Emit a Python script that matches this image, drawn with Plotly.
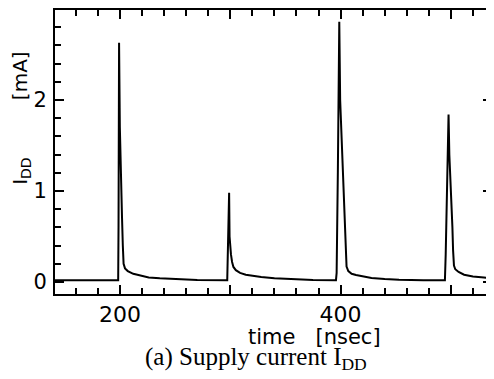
import plotly.graph_objects as go

# ---- data (time in nsec, supply current I_DD in mA) ----
time_ns = [
    141.0, 198.3, 198.6, 199.1, 199.8, 200.6, 201.4, 201.8, 202.5, 203.2, 204.5,
    207.0, 212.0, 218.0, 226.0, 236.0, 250.0, 270.0,
    297.2, 297.7, 298.9, 299.3, 299.8, 300.6, 301.6, 302.8, 305.0, 308.8, 314.0,
    320.0, 328.0, 340.0, 355.0, 375.0,
    395.8, 396.4, 397.5, 398.8, 399.6, 400.8, 401.5, 402.4, 403.3, 404.3, 405.4,
    407.0, 410.0, 414.0, 420.0, 428.0, 440.0, 453.0, 475.0,
    494.6, 495.3, 496.5, 497.9, 498.6, 499.6, 500.6, 501.4, 502.0, 502.8, 504.0,
    507.0, 512.0, 520.0, 530.0, 537.3,
]
current_mA = [
    0.02, 0.02, 0.60, 2.63, 1.70, 1.15, 0.95, 0.70, 0.40, 0.20, 0.15,
    0.12, 0.09, 0.07, 0.05, 0.04, 0.03, 0.022,
    0.02, 0.30, 0.98, 0.50, 0.37, 0.30, 0.22, 0.165, 0.13, 0.10, 0.08,
    0.066, 0.054, 0.04, 0.03, 0.022,
    0.02, 0.10, 1.20, 2.86, 2.00, 1.60, 1.30, 1.00, 0.70, 0.40, 0.17,
    0.12, 0.09, 0.077, 0.06, 0.044, 0.032, 0.024, 0.02,
    0.02, 0.30, 1.00, 1.84, 1.40, 1.15, 0.95, 0.60, 0.35, 0.18, 0.14,
    0.11, 0.08, 0.06, 0.048, 0.04,
]

x_label_vals = [200, 400]
x_label_text = ["200", "400"]
x_unlabelled_major = [300, 500]
y_tick_vals = [0, 1, 2]
y_tick_text = ["0", "1", "2"]

x_title = "time   [nsec]"
y_title = "I<sub>DD</sub>         [mA]"
caption = "(a) Supply current I<sub>DD</sub>"

fig = go.Figure()
fig.add_trace(go.Scatter(
    x=time_ns, y=current_mA, mode="lines",
    line=dict(color="black", width=2),
    showlegend=False, hoverinfo="skip",
))

axis_common = dict(
    showgrid=False, zeroline=False, showline=True, linecolor="black",
    linewidth=2, mirror="ticks", ticks="inside", tickcolor="black",
    tickwidth=1.5, automargin=False,
)
x_range = [141.0, 537.3]

fig.update_xaxes(
    range=x_range, tickvals=x_label_vals, ticktext=x_label_text,
    ticklen=9,
    minor=dict(dtick=20, tick0=0, ticks="inside", ticklen=6, tickcolor="black", tickwidth=1.5),
    tickfont=dict(family="DejaVu Sans", size=22, color="black"),
    ticklabelstandoff=0,
    **axis_common,
)
fig.update_yaxes(
    range=[-0.132, 2.989], tickvals=y_tick_vals, ticktext=y_tick_text,
    ticklen=9,
    minor=dict(dtick=0.2, tick0=0, ticks="inside", ticklen=6, tickcolor="black", tickwidth=1.5),
    tickfont=dict(family="DejaVu Sans", size=21, color="black"),
    ticklabelstandoff=2,
    **axis_common,
)
# longer unlabelled ticks at 300 and 500
fig.update_layout(xaxis2=dict(
    overlaying="x", matches="x", range=x_range, side="bottom",
    tickvals=x_unlabelled_major, showticklabels=False, ticks="inside",
    ticklen=9, tickwidth=1.5, tickcolor="black", mirror="ticks",
    showline=False, showgrid=False, zeroline=False, automargin=False,
))
fig.add_trace(go.Scatter(x=[x_range[0]], y=[None], xaxis="x2", showlegend=False,
                         hoverinfo="skip", mode="lines"))

fig.add_annotation(
    text=x_title, xref="paper", yref="paper", x=0.593, y=-0.153,
    xanchor="center", yanchor="middle", showarrow=False,
    font=dict(family="DejaVu Sans", size=21, color="black"),
)
fig.add_annotation(
    text=y_title, xref="paper", yref="paper", x=-0.078, y=0.62,
    xanchor="center", yanchor="middle", showarrow=False, textangle=-90,
    font=dict(family="DejaVu Sans", size=20, color="black"),
)
fig.add_annotation(
    text=caption, xref="paper", yref="paper", x=0.46, y=-0.228,
    xanchor="center", yanchor="middle", showarrow=False,
    font=dict(family="Liberation Serif", size=25, color="black"),
)

# page body has an 8px default margin: size the figure so it fits the window
fig.update_layout(
    width=486, height=371,
    margin=dict(l=47, r=2, t=2, b=85),
    plot_bgcolor="white", paper_bgcolor="white",
)

fig.write_html("out.html")
